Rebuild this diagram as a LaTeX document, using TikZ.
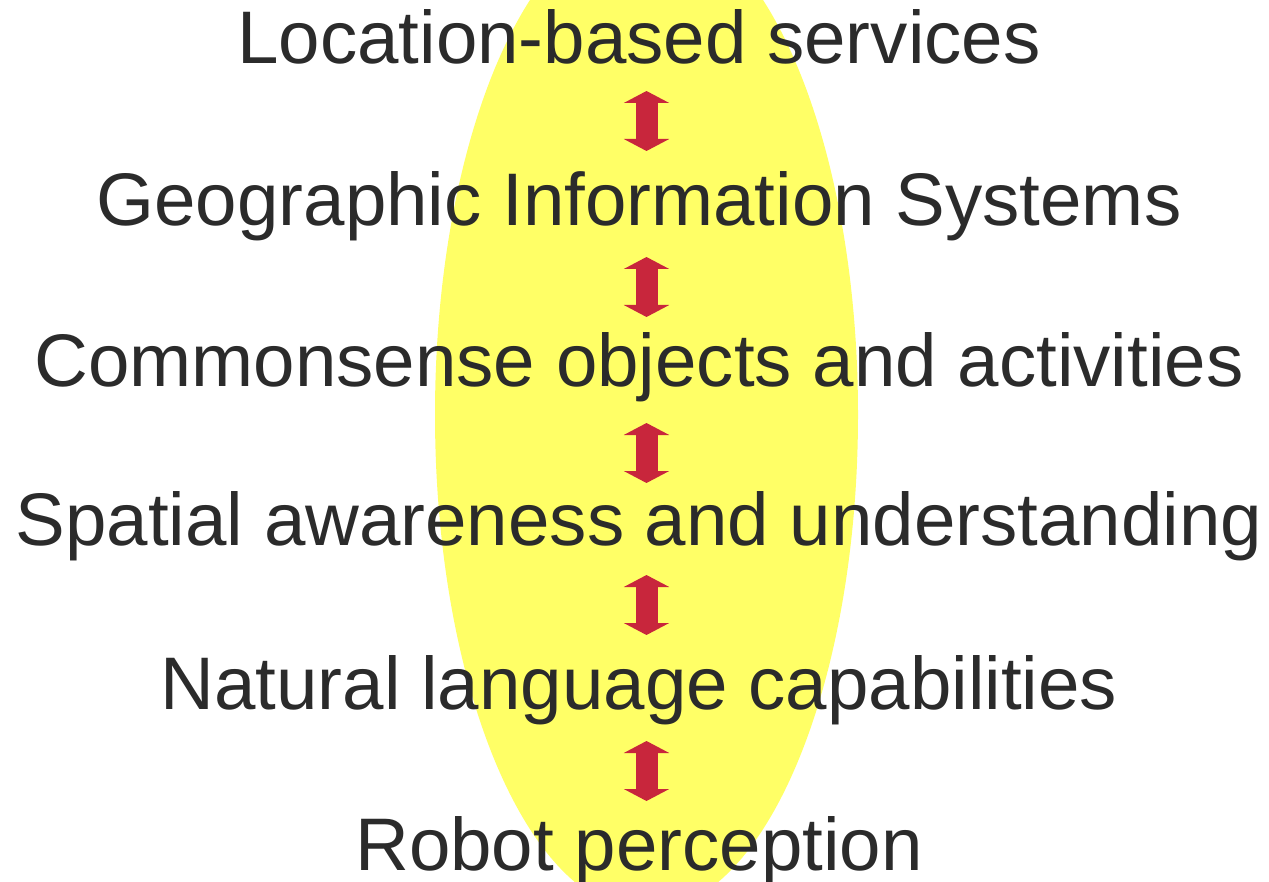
\documentclass[tikz,border=0pt]{standalone}
\usepackage{fontspec}
\setmainfont{Liberation Sans}
\usetikzlibrary{arrows.meta}
\definecolor{lemon}{HTML}{FFFF66}
\definecolor{crimsonred}{HTML}{C8263C}
\definecolor{inkgray}{HTML}{2B2B2B}
\begin{document}
\begin{tikzpicture}[x=1pt,y=-1pt,
  label/.style={inner sep=0pt, anchor=base, text=inkgray,
    font=\fontsize{74.5}{80}\selectfont},
  link/.style={draw=crimsonred, line width=22pt,
    {Triangle[width=45pt,length=12pt]}-{Triangle[width=45pt,length=12pt]}}]
  \useasboundingbox (0,0) rectangle (1269,882);
  % background highlight
  \begin{scope}
    \clip (0,0) rectangle (1269,882);
    \fill[lemon] (646.5,414.6) ellipse [x radius=211.5, y radius=496.7];
  \end{scope}
  % layers, top to bottom
  \node[label] (lbs) at (639,63.5)  {Location-based services};
  \node[label] (gis) at (639,225.5) {Geographic Information Systems};
  \node[label] (cso) at (639,386.5) {Commonsense objects and activities};
  \node[label] (spa) at (639,545)   {Spatial awareness and understanding};
  \node[label] (nlc) at (639,709.5) {Natural language capabilities};
  \node[label] (rob) at (639,870.5) {Robot perception};
  % arrow end points
  \coordinate (l1a) at (646.5,91);  \coordinate (l1b) at (646.5,151);
  \coordinate (l2a) at (646.5,257); \coordinate (l2b) at (646.5,317);
  \coordinate (l3a) at (646.5,423); \coordinate (l3b) at (646.5,483);
  \coordinate (l4a) at (646.5,575); \coordinate (l4b) at (646.5,635);
  \coordinate (l5a) at (646.5,741); \coordinate (l5b) at (646.5,801);
  \draw[link] (l1a) -- (l1b);
  \draw[link] (l2a) -- (l2b);
  \draw[link] (l3a) -- (l3b);
  \draw[link] (l4a) -- (l4b);
  \draw[link] (l5a) -- (l5b);
\end{tikzpicture}
\end{document}
